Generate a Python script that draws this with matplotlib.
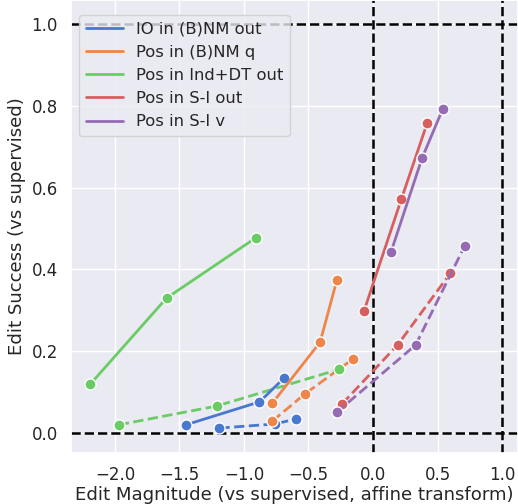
import matplotlib
matplotlib.use("Agg")
import matplotlib.pyplot as plt
import seaborn as sns

sns.set_theme(style="darkgrid", context="notebook")

labels = ["IO in (B)NM out", "Pos in (B)NM q", "Pos in Ind+DT out", "Pos in S-I out", "Pos in S-I v"]
colors = sns.color_palette("muted", 5)

# solid series (x = edit magnitude, y = edit success)
solid_x = [
    [-1.45, -0.88, -0.69],
    [-0.78, -0.41, -0.28],
    [-2.19, -1.60, -0.91],
    [-0.07, 0.22, 0.42],
    [0.14, 0.38, 0.54],
]
solid_y = [
    [0.020, 0.076, 0.134],
    [0.073, 0.222, 0.374],
    [0.120, 0.330, 0.477],
    [0.298, 0.572, 0.758],
    [0.443, 0.672, 0.792],
]
# dashed series
dash_x = [
    [-1.19, -0.76, -0.60],
    [-0.78, -0.53, -0.155],
    [-1.97, -1.21, -0.26],
    [-0.24, 0.19, 0.60],
    [-0.28, 0.33, 0.71],
]
dash_y = [
    [0.012, 0.022, 0.034],
    [0.029, 0.095, 0.181],
    [0.020, 0.066, 0.156],
    [0.071, 0.215, 0.391],
    [0.051, 0.215, 0.457],
]

fig = plt.figure(figsize=(5.18, 5.04), dpi=100)
ax = fig.add_axes([71/518, 51/504, 1 - 71/518, 1 - 51/504])

for y0 in (0, 1):
    ax.axhline(y0, color="black", ls="--", lw=1.8, zorder=1)
for x0 in (0, 1):
    ax.axvline(x0, color="black", ls="--", lw=1.8, zorder=1)

for i in range(5):
    ax.plot(dash_x[i], dash_y[i], ls="--", color=colors[i], lw=2, marker="o",
            markersize=8, markeredgecolor="white", markeredgewidth=1, zorder=3)
for i in range(5):
    ax.plot(solid_x[i], solid_y[i], ls="-", color=colors[i], lw=2, marker="o",
            markersize=8, markeredgecolor="white", markeredgewidth=1, zorder=3,
            label=labels[i])

ax.set_xlim(-2.341, 1.124)
ax.set_ylim(-0.049, 1.059)
ax.set_xticks([-2.0, -1.5, -1.0, -0.5, 0.0, 0.5, 1.0])
ax.set_yticks([0.0, 0.2, 0.4, 0.6, 0.8, 1.0])
ax.tick_params(labelsize=12)
ax.set_xlabel("Edit Magnitude (vs supervised, affine transform)", fontsize=13.1, labelpad=1.5)
ax.set_ylabel("Edit Success (vs supervised)", fontsize=13.1)

handles = [plt.Line2D([], [], color=colors[i], lw=2) for i in range(5)]
ax.legend(handles, labels, loc="upper left", fontsize=11.8, handlelength=2.25,
          bbox_to_anchor=(0.0, 0.985))

fig.savefig("out.png", dpi=100)
